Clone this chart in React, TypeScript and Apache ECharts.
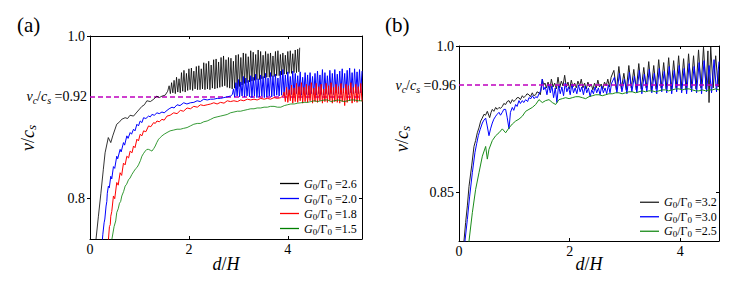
import React, { useEffect, useRef } from "react";
import * as echarts from "echarts";

type P = [number, number];

const FONT = "'Liberation Serif', 'DejaVu Serif', serif";

const leftRatios = ["2.6", "2.0", "1.8", "1.5"];
const rightRatios = ["3.2", "3.0", "2.5"];
const leftThreshold = 0.92;
const rightThreshold = 0.96;
const leftYTicks = [0.8, 1.0];
const rightYTicks = [0.85, 1.0];
const xTickStep = 2;
const leftRange = { xMax: 5.5, yMin: 0.757, yMax: 1.0 };
const rightRange = { xMax: 4.7, yMin: 0.8, yMax: 1.0 };

// ---------- panel (a) ----------
const a26: P[] = [
  [0.11, 0.75], [0.12, 0.756], [0.17, 0.781], [0.22, 0.806], [0.27, 0.833], [0.305, 0.852], [0.37, 0.87], [0.42, 0.864],
  [0.46, 0.872], [0.54, 0.886], [0.6, 0.889], [0.64, 0.892], [0.71, 0.894], [0.76, 0.893], [0.81, 0.897], [0.88, 0.896],
  [0.95, 0.901], [1.05, 0.908], [1.1, 0.91], [1.15, 0.915], [1.22, 0.914], [1.29, 0.917], [1.35, 0.921], [1.4, 0.919],
  [1.46, 0.921], [1.52, 0.922], [1.57, 0.927],
  [1.6, 0.934], [1.625, 0.924], [1.65, 0.938], [1.675, 0.925], [1.7, 0.941], [1.725, 0.924], [1.75, 0.945], [1.775, 0.926],
  [1.8, 0.943], [1.825, 0.925], [1.85, 0.951], [1.875, 0.927], [1.9, 0.954], [1.925, 0.926], [1.95, 0.95], [1.975, 0.928],
  [2.0, 0.956], [2.025, 0.929], [2.05, 0.957], [2.075, 0.928], [2.1, 0.953], [2.125, 0.93], [2.15, 0.959], [2.175, 0.929],
  [2.2, 0.96], [2.225, 0.929], [2.25, 0.956], [2.275, 0.93], [2.3, 0.964], [2.325, 0.929], [2.35, 0.963], [2.375, 0.93],
  [2.4, 0.966], [2.425, 0.929], [2.45, 0.961], [2.475, 0.931], [2.5, 0.968], [2.525, 0.93], [2.55, 0.969], [2.575, 0.931],
  [2.6, 0.965], [2.625, 0.932], [2.65, 0.971], [2.675, 0.933], [2.7, 0.973], [2.725, 0.934], [2.75, 0.968], [2.775, 0.932],
  [2.8, 0.971], [2.825, 0.931], [2.85, 0.97], [2.875, 0.93], [2.9, 0.966], [2.925, 0.931], [2.95, 0.974], [2.975, 0.93],
  [3.0, 0.975], [3.025, 0.933], [3.05, 0.971], [3.075, 0.935], [3.1, 0.977], [3.125, 0.937], [3.15, 0.976], [3.175, 0.938],
  [3.2, 0.972], [3.225, 0.939], [3.25, 0.98], [3.275, 0.94], [3.3, 0.978], [3.325, 0.941], [3.35, 0.975], [3.375, 0.942],
  [3.4, 0.981], [3.425, 0.942], [3.45, 0.979], [3.475, 0.943], [3.5, 0.974], [3.525, 0.944], [3.55, 0.979], [3.575, 0.945],
  [3.6, 0.976], [3.625, 0.945], [3.65, 0.977], [3.675, 0.946], [3.7, 0.973], [3.725, 0.946], [3.75, 0.979], [3.775, 0.947],
  [3.8, 0.98], [3.825, 0.947], [3.85, 0.975], [3.875, 0.948], [3.9, 0.977], [3.925, 0.949], [3.95, 0.974], [3.975, 0.949],
  [4.0, 0.979], [4.025, 0.95], [4.05, 0.98], [4.075, 0.95], [4.1, 0.976], [4.125, 0.951], [4.15, 0.981], [4.175, 0.951],
  [4.2, 0.982], [4.225, 0.952], [4.24, 0.984],
];

const a20: P[] = [
  [0.24, 0.75], [0.26, 0.762], [0.285, 0.774], [0.3, 0.778], [0.325, 0.792], [0.34, 0.797], [0.35, 0.806], [0.372, 0.814],
  [0.39, 0.812], [0.42, 0.825], [0.44, 0.822], [0.474, 0.836], [0.5, 0.834], [0.541, 0.848], [0.56, 0.845], [0.609, 0.856],
  [0.63, 0.853], [0.677, 0.864], [0.7, 0.861], [0.745, 0.872], [0.77, 0.869], [0.812, 0.876], [0.84, 0.874], [0.88, 0.88],
  [0.91, 0.878], [0.948, 0.886], [0.98, 0.884], [1.015, 0.89], [1.05, 0.888], [1.083, 0.894], [1.13, 0.893], [1.184, 0.896],
  [1.22, 0.895], [1.252, 0.898], [1.3, 0.897], [1.354, 0.9], [1.4, 0.899], [1.455, 0.901], [1.5, 0.9], [1.557, 0.903],
  [1.6, 0.905], [1.658, 0.907], [1.7, 0.906], [1.76, 0.91], [1.82, 0.909], [1.895, 0.9125], [1.96, 0.911], [2.03, 0.9125],
  [2.1, 0.913], [2.166, 0.915], [2.23, 0.914], [2.3, 0.917], [2.37, 0.916], [2.437, 0.917], [2.5, 0.917], [2.572, 0.918],
  [2.64, 0.918], [2.707, 0.919], [2.78, 0.92], [2.843, 0.921], [2.88, 0.923],
  [2.9, 0.93], [2.925, 0.92], [2.95, 0.938], [2.975, 0.921], [3.0, 0.942], [3.025, 0.92], [3.05, 0.939], [3.075, 0.921],
  [3.1, 0.946], [3.125, 0.92], [3.15, 0.944], [3.175, 0.921], [3.2, 0.941], [3.225, 0.92], [3.25, 0.947], [3.275, 0.919],
  [3.3, 0.945], [3.325, 0.921], [3.35, 0.949], [3.375, 0.919], [3.4, 0.943], [3.425, 0.92], [3.45, 0.948], [3.475, 0.921],
  [3.5, 0.946], [3.525, 0.919], [3.55, 0.95], [3.575, 0.92], [3.6, 0.944], [3.625, 0.921], [3.65, 0.951], [3.675, 0.92],
  [3.7, 0.947], [3.725, 0.921], [3.75, 0.949], [3.775, 0.922], [3.8, 0.944], [3.825, 0.921], [3.85, 0.953], [3.875, 0.922],
  [3.9, 0.955], [3.925, 0.921], [3.95, 0.948], [3.975, 0.923], [4.0, 0.952], [4.025, 0.922], [4.05, 0.946], [4.075, 0.923],
  [4.1, 0.953], [4.125, 0.922], [4.15, 0.95], [4.175, 0.924], [4.2, 0.947], [4.225, 0.923], [4.25, 0.952], [4.275, 0.922],
  [4.3, 0.945], [4.325, 0.924], [4.35, 0.951], [4.375, 0.923], [4.4, 0.948], [4.425, 0.922], [4.45, 0.951], [4.475, 0.924],
  [4.5, 0.946], [4.525, 0.923], [4.55, 0.95], [4.575, 0.922], [4.6, 0.953], [4.625, 0.924], [4.65, 0.948], [4.675, 0.923],
  [4.7, 0.955], [4.725, 0.922], [4.75, 0.951], [4.775, 0.924], [4.8, 0.947], [4.825, 0.923], [4.85, 0.954], [4.875, 0.924],
  [4.9, 0.95], [4.925, 0.923], [4.95, 0.955], [4.975, 0.925], [5.0, 0.949], [5.025, 0.924], [5.05, 0.953], [5.075, 0.923],
  [5.1, 0.956], [5.125, 0.925], [5.15, 0.95], [5.175, 0.924], [5.2, 0.954], [5.225, 0.923], [5.25, 0.957], [5.275, 0.925],
  [5.3, 0.951], [5.325, 0.924], [5.35, 0.956], [5.375, 0.925], [5.4, 0.952], [5.425, 0.924], [5.45, 0.955], [5.475, 0.925],
  [5.5, 0.953],
];

const a18: P[] = [
  [0.36, 0.75], [0.372, 0.756], [0.393, 0.77], [0.41, 0.772], [0.42, 0.781], [0.44, 0.786], [0.474, 0.803], [0.5, 0.8],
  [0.541, 0.818], [0.57, 0.815], [0.609, 0.829], [0.64, 0.826], [0.677, 0.84], [0.71, 0.838], [0.745, 0.848], [0.78, 0.846],
  [0.812, 0.854], [0.85, 0.852], [0.88, 0.86], [0.91, 0.858], [0.948, 0.868], [0.98, 0.866], [1.015, 0.874], [1.05, 0.872],
  [1.083, 0.878], [1.13, 0.877], [1.184, 0.884], [1.23, 0.883], [1.286, 0.888], [1.32, 0.887], [1.354, 0.89], [1.4, 0.889],
  [1.455, 0.892], [1.5, 0.891], [1.557, 0.896], [1.62, 0.897], [1.692, 0.9], [1.76, 0.899], [1.827, 0.903], [1.89, 0.902],
  [1.963, 0.906], [2.03, 0.905], [2.098, 0.908], [2.17, 0.907], [2.234, 0.91], [2.3, 0.909], [2.369, 0.91], [2.44, 0.911],
  [2.504, 0.9125], [2.57, 0.911], [2.64, 0.913], [2.71, 0.912], [2.775, 0.915], [2.84, 0.914], [2.91, 0.915], [2.98, 0.914],
  [3.046, 0.916], [3.11, 0.915], [3.181, 0.917], [3.25, 0.916], [3.316, 0.917], [3.38, 0.916], [3.452, 0.918], [3.52, 0.917],
  [3.587, 0.918], [3.65, 0.917], [3.722, 0.919], [3.79, 0.918], [3.858, 0.919], [3.9, 0.921],
  [3.925, 0.926], [3.95, 0.914], [3.975, 0.932], [4.0, 0.913], [4.025, 0.929], [4.05, 0.915], [4.075, 0.935], [4.1, 0.912],
  [4.125, 0.931], [4.15, 0.914], [4.175, 0.937], [4.2, 0.913], [4.225, 0.933], [4.25, 0.915], [4.275, 0.938], [4.3, 0.912],
  [4.325, 0.932], [4.35, 0.914], [4.375, 0.936], [4.4, 0.913], [4.425, 0.934], [4.45, 0.915], [4.475, 0.938], [4.5, 0.912],
  [4.525, 0.931], [4.55, 0.914], [4.575, 0.937], [4.6, 0.913], [4.625, 0.933], [4.65, 0.915], [4.675, 0.936], [4.7, 0.912],
  [4.725, 0.93], [4.75, 0.914], [4.775, 0.937], [4.8, 0.913], [4.825, 0.934], [4.85, 0.915], [4.875, 0.938], [4.9, 0.912],
  [4.925, 0.932], [4.95, 0.914], [4.975, 0.936], [5.0, 0.913], [5.025, 0.933], [5.05, 0.912], [5.075, 0.937], [5.1, 0.914],
  [5.125, 0.931], [5.15, 0.909], [5.175, 0.936], [5.2, 0.913], [5.225, 0.934], [5.25, 0.915], [5.275, 0.938], [5.3, 0.912],
  [5.325, 0.932], [5.35, 0.914], [5.375, 0.936], [5.4, 0.913], [5.425, 0.933], [5.45, 0.915], [5.475, 0.937], [5.5, 0.914],
];

const a15: P[] = [
  [0.43, 0.75], [0.44, 0.756], [0.487, 0.77], [0.52, 0.776], [0.541, 0.785], [0.57, 0.789], [0.596, 0.795], [0.62, 0.797],
  [0.643, 0.803], [0.68, 0.808], [0.711, 0.814], [0.74, 0.816], [0.778, 0.821], [0.81, 0.823], [0.846, 0.827], [0.88, 0.83],
  [0.914, 0.833], [0.95, 0.835], [0.981, 0.838], [1.02, 0.843], [1.049, 0.848], [1.08, 0.851], [1.117, 0.854], [1.15, 0.856],
  [1.184, 0.856], [1.22, 0.855], [1.252, 0.854], [1.29, 0.857], [1.32, 0.86], [1.35, 0.864], [1.387, 0.868], [1.42, 0.87],
  [1.455, 0.872], [1.5, 0.874], [1.557, 0.876], [1.62, 0.878], [1.692, 0.879], [1.76, 0.88], [1.827, 0.88], [1.89, 0.881],
  [1.963, 0.882], [2.03, 0.884], [2.098, 0.886], [2.17, 0.887], [2.234, 0.887], [2.3, 0.889], [2.369, 0.89], [2.44, 0.892],
  [2.504, 0.894], [2.57, 0.895], [2.64, 0.896], [2.71, 0.897], [2.775, 0.898], [2.84, 0.9], [2.91, 0.901], [2.98, 0.902],
  [3.046, 0.902], [3.11, 0.903], [3.181, 0.904], [3.25, 0.905], [3.316, 0.905], [3.38, 0.906], [3.452, 0.906], [3.52, 0.907],
  [3.587, 0.907], [3.65, 0.908], [3.722, 0.908], [3.79, 0.907], [3.858, 0.907], [3.93, 0.909], [3.993, 0.91], [4.06, 0.911],
  [4.129, 0.911], [4.2, 0.912], [4.264, 0.9125], [4.33, 0.913], [4.399, 0.913], [4.47, 0.914], [4.535, 0.915], [4.6, 0.914],
  [4.67, 0.915], [4.74, 0.916], [4.805, 0.916], [4.87, 0.914], [4.941, 0.915], [5.01, 0.916], [5.076, 0.915], [5.14, 0.914],
  [5.211, 0.915], [5.28, 0.916], [5.347, 0.916], [5.42, 0.915], [5.5, 0.915],
];

// ---------- panel (b) ----------
const b32: P[] = [
  [0.085, 0.795], [0.09, 0.8], [0.12, 0.819], [0.151, 0.836], [0.181, 0.856], [0.229, 0.877], [0.271, 0.897], [0.3, 0.903],
  [0.331, 0.911], [0.36, 0.916], [0.392, 0.923], [0.42, 0.926], [0.452, 0.93], [0.48, 0.929], [0.512, 0.933], [0.554, 0.9265],
  [0.58, 0.932], [0.602, 0.935], [0.63, 0.933], [0.663, 0.937], [0.69, 0.935], [0.723, 0.937], [0.75, 0.936], [0.783, 0.938],
  [0.81, 0.941], [0.843, 0.94], [0.87, 0.943], [0.904, 0.944], [0.93, 0.941], [0.964, 0.945], [0.99, 0.943], [1.024, 0.945],
  [1.05, 0.947], [1.084, 0.947], [1.11, 0.945], [1.145, 0.949], [1.17, 0.947], [1.205, 0.949], [1.23, 0.951], [1.265, 0.95],
  [1.29, 0.948], [1.325, 0.952], [1.35, 0.949], [1.386, 0.95], [1.41, 0.953], [1.446, 0.952], [1.47, 0.95], [1.49, 0.958],
  [1.506, 0.966], [1.53, 0.96], [1.554, 0.962],
  [1.58, 0.957], [1.61, 0.963], [1.64, 0.955], [1.67, 0.966], [1.7, 0.958], [1.73, 0.962], [1.76, 0.956], [1.79, 0.968],
  [1.82, 0.957], [1.85, 0.964], [1.88, 0.959], [1.91, 0.97], [1.94, 0.958], [1.97, 0.963], [2.0, 0.956], [2.03, 0.965],
  [2.06, 0.958], [2.09, 0.962], [2.12, 0.957], [2.15, 0.964], [2.18, 0.959], [2.21, 0.966], [2.24, 0.957], [2.27, 0.962],
  [2.3, 0.956], [2.33, 0.963], [2.36, 0.958], [2.39, 0.961], [2.42, 0.955], [2.45, 0.962], [2.48, 0.957], [2.51, 0.965],
  [2.54, 0.958], [2.57, 0.961], [2.6, 0.956], [2.63, 0.963], [2.66, 0.959], [2.69, 0.966], [2.72, 0.958], [2.75, 0.968],
  [2.8, 0.975], [2.845, 0.955], [2.89, 0.979], [2.935, 0.956], [2.98, 0.972], [3.025, 0.955], [3.07, 0.98], [3.115, 0.957],
  [3.16, 0.976], [3.205, 0.955], [3.25, 0.982], [3.295, 0.956], [3.34, 0.978], [3.385, 0.957], [3.43, 0.984], [3.475, 0.955],
  [3.52, 0.98], [3.565, 0.956], [3.61, 0.986], [3.655, 0.957], [3.7, 0.983], [3.745, 0.956], [3.79, 0.988], [3.835, 0.955],
  [3.88, 0.985], [3.925, 0.957], [3.97, 0.99], [4.015, 0.956], [4.06, 0.987], [4.105, 0.955], [4.15, 0.992], [4.195, 0.957],
  [4.24, 0.99], [4.285, 0.956], [4.33, 0.996], [4.375, 0.957], [4.42, 0.999], [4.465, 0.956], [4.5, 0.995], [4.52, 0.942],
  [4.55, 0.999], [4.595, 0.957], [4.64, 0.99], [4.685, 0.958], [4.7, 0.975],
];

const b30: P[] = [
  [0.1, 0.795], [0.108, 0.8], [0.151, 0.822], [0.193, 0.846], [0.241, 0.87], [0.289, 0.891], [0.32, 0.9], [0.349, 0.908],
  [0.38, 0.914], [0.422, 0.921], [0.45, 0.924], [0.482, 0.926], [0.51, 0.918], [0.542, 0.908], [0.57, 0.915], [0.602, 0.921],
  [0.63, 0.925], [0.663, 0.928], [0.69, 0.93], [0.723, 0.932], [0.75, 0.929], [0.783, 0.932], [0.81, 0.935], [0.843, 0.935],
  [0.87, 0.927], [0.904, 0.915], [0.93, 0.932], [0.964, 0.937], [0.99, 0.934], [1.024, 0.94], [1.05, 0.938], [1.084, 0.944],
  [1.11, 0.941], [1.145, 0.944], [1.17, 0.942], [1.205, 0.945], [1.24, 0.943], [1.265, 0.947], [1.3, 0.946], [1.325, 0.949],
  [1.36, 0.946], [1.386, 0.948], [1.416, 0.947], [1.446, 0.951], [1.476, 0.954], [1.506, 0.966], [1.53, 0.955],
  [1.56, 0.958], [1.59, 0.95], [1.62, 0.961], [1.65, 0.952], [1.68, 0.959], [1.71, 0.947], [1.74, 0.957], [1.77, 0.942],
  [1.8, 0.96], [1.83, 0.951], [1.86, 0.958], [1.89, 0.949], [1.92, 0.962], [1.95, 0.953], [1.98, 0.958], [2.01, 0.95],
  [2.04, 0.961], [2.07, 0.952], [2.1, 0.957], [2.13, 0.951], [2.16, 0.96], [2.19, 0.953], [2.22, 0.958], [2.25, 0.95],
  [2.28, 0.959], [2.31, 0.952], [2.34, 0.957], [2.37, 0.948], [2.4, 0.955], [2.43, 0.951], [2.46, 0.958], [2.49, 0.952],
  [2.52, 0.957], [2.55, 0.95], [2.58, 0.959], [2.61, 0.952], [2.64, 0.957], [2.67, 0.951], [2.7, 0.96], [2.73, 0.952],
  [2.76, 0.962],
  [2.81, 0.968], [2.855, 0.952], [2.9, 0.972], [2.945, 0.953], [2.99, 0.966], [3.035, 0.951], [3.08, 0.973], [3.125, 0.953],
  [3.17, 0.969], [3.215, 0.952], [3.26, 0.975], [3.305, 0.951], [3.35, 0.971], [3.395, 0.953], [3.44, 0.976], [3.485, 0.952],
  [3.53, 0.972], [3.575, 0.951], [3.62, 0.977], [3.665, 0.953], [3.71, 0.974], [3.755, 0.952], [3.8, 0.979], [3.845, 0.951],
  [3.89, 0.975], [3.935, 0.953], [3.98, 0.98], [4.025, 0.952], [4.07, 0.977], [4.115, 0.951], [4.16, 0.982], [4.205, 0.953],
  [4.25, 0.979], [4.295, 0.952], [4.34, 0.983], [4.385, 0.951], [4.43, 0.985], [4.475, 0.953], [4.52, 0.98], [4.565, 0.952],
  [4.61, 0.986], [4.655, 0.953], [4.7, 0.984],
];

const b25: P[] = [
  [0.175, 0.795], [0.181, 0.8], [0.241, 0.829], [0.301, 0.853], [0.361, 0.87], [0.422, 0.887], [0.482, 0.897], [0.512, 0.884],
  [0.542, 0.894], [0.602, 0.903], [0.663, 0.908], [0.723, 0.911], [0.783, 0.915], [0.843, 0.911], [0.904, 0.916], [0.964, 0.92],
  [1.024, 0.923], [1.084, 0.925], [1.145, 0.928], [1.205, 0.933], [1.265, 0.935], [1.325, 0.937], [1.386, 0.94], [1.446, 0.945],
  [1.506, 0.942], [1.566, 0.944], [1.627, 0.945], [1.687, 0.942], [1.747, 0.94], [1.807, 0.945], [1.868, 0.946], [1.928, 0.947],
  [1.99, 0.946], [2.048, 0.947], [2.11, 0.948], [2.169, 0.948], [2.23, 0.947], [2.289, 0.946], [2.35, 0.948], [2.41, 0.949],
  [2.47, 0.95], [2.53, 0.95], [2.59, 0.949], [2.651, 0.95], [2.71, 0.951], [2.771, 0.951], [2.83, 0.952], [2.892, 0.952],
  [2.95, 0.951], [3.012, 0.952], [3.07, 0.953], [3.133, 0.953], [3.19, 0.952], [3.253, 0.953], [3.31, 0.954], [3.373, 0.953],
  [3.43, 0.954], [3.494, 0.954], [3.55, 0.953], [3.614, 0.954], [3.67, 0.955], [3.735, 0.955], [3.79, 0.954], [3.855, 0.955],
  [3.92, 0.956], [3.976, 0.956], [4.04, 0.955], [4.096, 0.956], [4.16, 0.956], [4.217, 0.955], [4.28, 0.954], [4.337, 0.954],
  [4.4, 0.955], [4.458, 0.954], [4.52, 0.955], [4.578, 0.955], [4.64, 0.956], [4.7, 0.955],
];

const leftSeriesData = [a26, a20, a18, a15];
const rightSeriesData = [b32, b30, b25];
const leftColors = ["#000000", "#0000ff", "#ff0000", "#008000"];
const rightColors = ["#222222", "#0000ff", "#1a8c1a"];
const leftWidths = [0.8, 1, 1, 0.8];
const rightWidths = [1, 1, 1];

const seriesName = (r: string) => `G0/Γ0 =${r}`;

function richSet(size: number, lh: number) {
  const sub = Math.round(size * 0.72);
  return {
    i: { fontFamily: FONT, fontStyle: "italic", fontSize: size, color: "#000", lineHeight: lh },
    n: { fontFamily: FONT, fontSize: size, color: "#000", lineHeight: lh },
    s: { fontFamily: FONT, fontSize: sub, color: "#000", verticalAlign: "bottom", lineHeight: sub + 1 },
    si: { fontFamily: FONT, fontStyle: "italic", fontSize: sub, color: "#000", verticalAlign: "bottom", lineHeight: sub + 1 },
  };
}

const legendFormatter = (name: string) => {
  const r = name.split("=")[1];
  return `{i|G}{s|0}{n|/Γ}{s|0}{n| =${r}}`;
};

const thresholdLabel = (v: number) => `{i|v}{si|c}{n|/}{i|c}{si|s}{n| =${v}}`;

function xAxes(gridIndex: number, max: number) {
  const common = {
    type: "value",
    gridIndex,
    min: 0,
    max,
    interval: xTickStep,
    splitLine: { show: false },
    axisLine: { show: true, onZero: false, lineStyle: { color: "#000", width: 1 } },
    axisTick: { show: true, inside: true, length: 3, lineStyle: { color: "#000" } },
  };
  return [
    {
      ...common,
      position: "bottom",
      axisLabel: { show: true, margin: 3, fontFamily: FONT, fontSize: 14, color: "#000", showMaxLabel: false },
    },
    { ...common, position: "top", axisLabel: { show: false } },
  ];
}

function yAxes(gridIndex: number, type: string, min: number, max: number, ticks: number[], fmt: (v: number) => string) {
  const common = {
    type,
    gridIndex,
    min,
    max,
    splitLine: { show: false },
    minorTick: { show: false },
    axisLine: { show: true, onZero: false, lineStyle: { color: "#000", width: 1 } },
  };
  return [
    {
      ...common,
      position: "left",
      axisTick: { show: true, inside: false, length: 3, customValues: ticks, lineStyle: { color: "#000" } },
      axisLabel: { show: true, margin: 5, fontFamily: FONT, fontSize: 14, color: "#000", customValues: ticks, formatter: fmt },
    },
    {
      ...common,
      position: "right",
      axisTick: { show: true, inside: true, length: 3, customValues: ticks, lineStyle: { color: "#000" } },
      axisLabel: { show: false },
    },
  ];
}

export default function App() {
  const ref = useRef<HTMLDivElement>(null);
  useEffect(() => {
    if (!ref.current) return;
    const chart = echarts.init(ref.current, undefined, { renderer: "svg" });

    const mkSeries = (
      data: P[], name: string, color: string, width: number, axisIdx: number, markLine?: any
    ) => ({
      type: "line",
      name,
      data,
      xAxisIndex: axisIdx,
      yAxisIndex: axisIdx,
      color,
      symbol: "none",
      showSymbol: false,
      silent: true,
      clip: true,
      lineStyle: { color, width },
      emphasis: { disabled: true },
      ...(markLine ? { markLine } : {}),
    });

    const mkMarkLine = (v: number, z: number) => ({
      silent: true,
      symbol: ["none", "none"],
      z,
      animation: false,
      lineStyle: { color: "#bf00bf", type: [5, 3], width: 1.5 },
      label: {
        show: true,
        position: "start",
        distance: 3,
        formatter: () => thresholdLabel(v),
        rich: richSet(14, 18),
      },
      data: [{ yAxis: v }],
    });

    const series: any[] = [];
    leftRatios.forEach((r, k) => {
      series.push(
        mkSeries(leftSeriesData[k], seriesName(r), leftColors[k], leftWidths[k], 0,
          k === 0 ? mkMarkLine(leftThreshold, 1) : undefined)
      );
    });
    rightRatios.forEach((r, k) => {
      series.push(
        mkSeries(rightSeriesData[k], seriesName(r), rightColors[k], rightWidths[k], 2,
          k === rightRatios.length - 1 ? mkMarkLine(rightThreshold, 5) : undefined)
      );
    });

    const legendCommon = {
      orient: "vertical",
      padding: 0,
      itemWidth: 19,
      itemHeight: 1.3,
      icon: "rect",
      itemGap: 0,
      selectedMode: false,
      formatter: legendFormatter,
    };

    const yFmt1 = (v: number) => v.toFixed(1);
    const yFmt2 = (v: number) => (Math.abs(v - 1) < 1e-6 ? "1.0" : String(+v.toFixed(2)));

    const mathName = (text: string, x: number, y: number, rot: number) => ({
      type: "text",
      x,
      y,
      rotation: rot,
      silent: true,
      style: {
        text,
        align: "center",
        verticalAlign: "middle",
        rich: richSet(18, 20),
        font: `italic 18px ${FONT}`,
        fill: "#000",
      },
    });

    chart.setOption({
      animation: false,
      textStyle: { fontFamily: FONT },
      grid: [
        { left: 90, top: 36, width: 272, height: 203, containLabel: false },
        { left: 459, top: 46, width: 260, height: 195, containLabel: false },
      ],
      xAxis: [...xAxes(0, leftRange.xMax), ...xAxes(1, rightRange.xMax)],
      yAxis: [
        ...yAxes(0, "log", leftRange.yMin, leftRange.yMax, leftYTicks, yFmt1),
        ...yAxes(1, "value", rightRange.yMin, rightRange.yMax, rightYTicks, yFmt2),
      ],
      legend: [
        {
          ...legendCommon,
          data: leftRatios.map(seriesName),
          left: 280,
          top: 176,
          textStyle: { fontFamily: FONT, fontSize: 12, color: "#000", lineHeight: 15, rich: richSet(12, 15) },
        },
        {
          ...legendCommon,
          data: rightRatios.map(seriesName),
          left: 640,
          top: 195,
          textStyle: { fontFamily: FONT, fontSize: 12, color: "#000", lineHeight: 14.5, rich: richSet(12, 14.5) },
        },
      ],
      graphic: [
        { type: "text", x: 17, y: 25, silent: true, style: { text: "(a)", font: `21px ${FONT}`, fill: "#000", verticalAlign: "middle" } },
        { type: "text", x: 385, y: 25, silent: true, style: { text: "(b)", font: `21px ${FONT}`, fill: "#000", verticalAlign: "middle" } },
        mathName("{i|v}{n|/}{i|c}{si|s}", 28, 138, Math.PI / 2),
        mathName("{i|v}{n|/}{i|c}{si|s}", 402, 139, Math.PI / 2),
        mathName("{i|d}{n|/}{i|H}", 226, 264, 0),
        mathName("{i|d}{n|/}{i|H}", 589, 264, 0),
      ],
      series,
    });
    return () => chart.dispose();
  }, []);
  return (
    <div
      ref={ref}
      style={{ position: "absolute", left: 0, top: 0, width: 747, height: 284, background: "#fff" }}
    />
  );
}
